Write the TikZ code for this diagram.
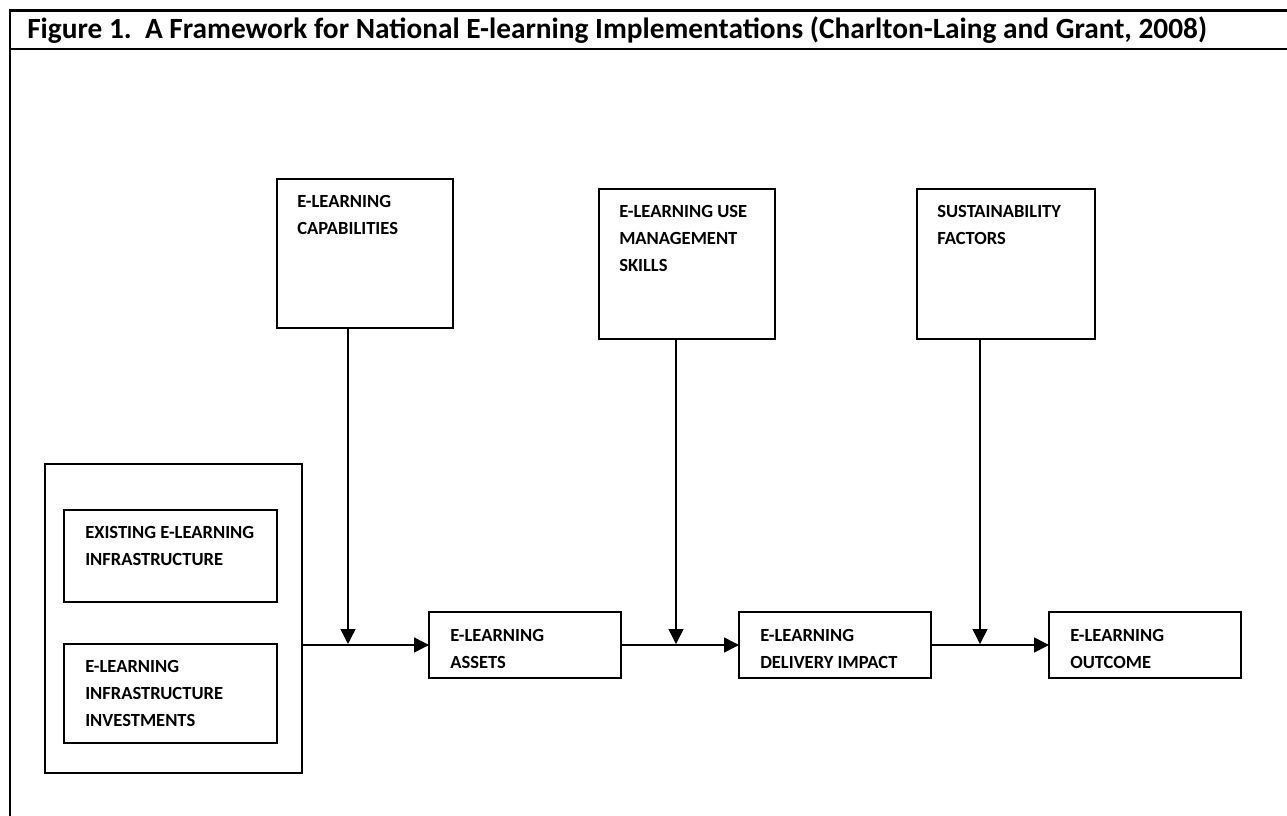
\documentclass[tikz,border=0pt]{standalone}
\usepackage{fontspec}
\setmainfont{Carlito}
\usetikzlibrary{arrows.meta}
\begin{document}
\begin{tikzpicture}[x=0.75pt,y=-0.75pt,
  box/.style={draw=black,line width=1.5pt,rectangle,anchor=north west,inner sep=0pt,outer sep=0pt},
  sz/.style 2 args={minimum width={#1*0.75pt},minimum height={#2*0.75pt}},
  lbl/.style={anchor=north west,inner sep=0pt,align=left,font=\fontsize{13.9pt}{20pt}\selectfont\bfseries},
  conn/.style={draw=black,line width=1.1pt},
  arr/.style={conn,-{Triangle[length=11.25pt,width=11.25pt]}},
  frameline/.style={draw=black,line width=1.6pt}]
\useasboundingbox (0,0) rectangle (1287,816);
% frame
\coordinate (ftl) at (9,10.5);
\coordinate (ftr) at (1287,10.5);
\coordinate (fml) at (9,49);
\coordinate (fmr) at (1287,49);
\coordinate (fbl) at (10,816);
\draw[frameline] (ftl) -- (ftr);
\draw[frameline] (fml) -- (fmr);
\draw[frameline] (ftl -| fbl) -- (fbl);
\node[anchor=base west,inner sep=0pt,font=\fontsize{22pt}{26pt}\selectfont\bfseries] (title) at (27,39)
  {Figure 1.\ \ A Framework for National E-learning Implementations (Charlton-Laing and Grant, 2008)};
% boxes
\node[box,sz={176}{149}] (cap) at (277,179) {};
\node[box,sz={176}{150}] (use) at (599,189) {};
\node[box,sz={178}{150}] (sus) at (917,189) {};
\node[box,sz={257}{309}] (grp) at (45,464) {};
\node[box,sz={213}{92}] (exist) at (64,510) {};
\node[box,sz={213}{99}] (invest) at (64,644) {};
\node[box,sz={192}{66}] (assets) at (429,612) {};
\node[box,sz={192}{66}] (deliv) at (739,612) {};
\node[box,sz={192}{66}] (outc) at (1049,612) {};
% labels
\node[lbl] (tcap) at ([shift={(20,16)}]cap.north west) {E-LEARNING\\CAPABILITIES};
\node[lbl] (tuse) at ([shift={(20,16.5)}]use.north west) {E-LEARNING USE\\MANAGEMENT\\SKILLS};
\node[lbl] (tsus) at ([shift={(20,16.5)}]sus.north west) {SUSTAINABILITY\\FACTORS};
\node[lbl] (texist) at ([shift={(21,16)}]exist.north west) {EXISTING E-LEARNING\\INFRASTRUCTURE};
\node[lbl] (tinvest) at ([shift={(21,16.5)}]invest.north west) {E-LEARNING\\INFRASTRUCTURE\\INVESTMENTS};
\node[lbl] (tassets) at ([shift={(21,17.5)}]assets.north west) {E-LEARNING\\ASSETS};
\node[lbl] (tdeliv) at ([shift={(21,17.5)}]deliv.north west) {E-LEARNING\\DELIVERY IMPACT};
\node[lbl] (toutc) at ([shift={(21,17.5)}]outc.north west) {E-LEARNING\\OUTCOME};
% connectors
\coordinate (j1) at (348,644);
\coordinate (j2) at (676,644);
\coordinate (j3) at (980,644);
\draw[arr] (assets.west -| grp.east) -- (assets.west);
\draw[arr] (deliv.west -| assets.east) -- (deliv.west);
\draw[arr] (outc.west -| deliv.east) -- (outc.west);
\draw[arr] (j1 |- cap.south) -- (j1);
\draw[arr] (j2 |- use.south) -- (j2);
\draw[arr] (j3 |- sus.south) -- (j3);
\end{tikzpicture}
\end{document}
